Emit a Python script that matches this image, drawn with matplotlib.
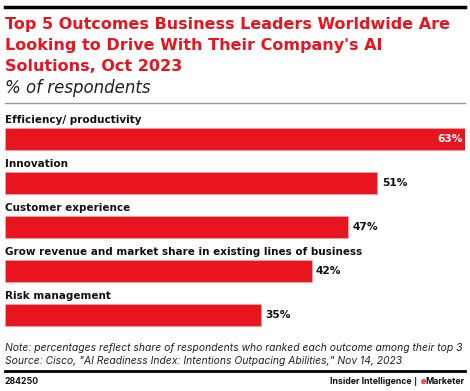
import matplotlib
matplotlib.use("Agg")
import matplotlib.pyplot as plt
from matplotlib.lines import Line2D

plt.rcParams['font.family'] = ['Inter', 'DejaVu Sans']

categories = ["Efficiency/ productivity", "Innovation", "Customer experience",
              "Grow revenue and market share in existing lines of business",
              "Risk management"]
values = [63, 51, 47, 42, 35]

title_lines = ["Top 5 Outcomes Business Leaders Worldwide Are",
               "Looking to Drive With Their Company's AI",
               "Solutions, Oct 2023"]

RED = '#E8141E'
W, H = 470, 391

fig = plt.figure(figsize=(W / 100, H / 100), dpi=100)

def fy(px):
    return 1 - px / H

def fx(px):
    return px / W

# header rules and text
fig.add_artist(Line2D([fx(5), fx(465)], [fy(7), fy(7)], color='black', lw=2.5))
for i, line in enumerate(title_lines):
    fig.text(fx(5), fy(29 + 21 * i), line, color=RED, fontsize=11.5,
             fontweight='bold', va='baseline', ha='left',
             family=['DejaVu Sans'])
fig.text(fx(5), fy(93), "% of respondents", fontsize=12, style='italic',
         va='baseline', ha='left', color='#222222', family=['DejaVu Sans'])
fig.add_artist(Line2D([fx(5), fx(465)], [fy(102.5), fy(102.5)], color='#999999', lw=1))

# bars
ax = fig.add_axes([fx(5), fy(337), fx(460), 220 / H])
ys = list(range(len(values)))
ax.barh(ys, values, height=0.48, color=RED, edgecolor='#F4A5A9', linewidth=0.5)
ax.set_xlim(0, max(values))
ax.set_ylim(len(values) - 0.5, -0.5)
ax.axis('off')
for y, cat, v in zip(ys, categories, values):
    ax.text(0, y - 0.36, cat, fontsize=7.45, fontweight='bold', va='baseline',
            ha='left', color='#111111', family=['DejaVu Sans'])
    if v == max(values):
        ax.text(v - 0.3, y, f"{v}%", fontsize=7.7, fontweight='bold',
                va='center', ha='right', color='white', family=['DejaVu Sans'])
    else:
        ax.text(v + 0.6, y, f"{v}%", fontsize=7.7, fontweight='bold',
                va='center', ha='left', color='#111111', family=['DejaVu Sans'])

# footer
fig.text(fx(5), fy(348), "Note: percentages reflect share of respondents who ranked each outcome among their top 3",
         fontsize=7.45, style='italic', va='center', ha='left', color='#222222')
fig.text(fx(5), fy(361), "Source: Cisco, \"AI Readiness Index: Intentions Outpacing Abilities,\" Nov 14, 2023",
         fontsize=7.45, style='italic', va='center', ha='left', color='#222222')
fig.add_artist(Line2D([fx(5), fx(465)], [fy(371), fy(371)], color='black', lw=2))
fig.text(fx(5), fy(381.5), "284250", fontsize=6.3, fontweight='bold', va='center',
         ha='left', color='#111111')

# footer brand, right-aligned in pieces
r = fig.canvas.get_renderer()
pieces = [("Marketer", '#111111', 'Inter'), ("e", RED, 'Inter'),
          (" | ", '#111111', 'DejaVu Sans'), ("Insider Intelligence", '#111111', 'Inter')]
x = fx(465)
for txt, col, fam in pieces:
    t = fig.text(x, fy(381.5), txt, fontsize=6.3, fontweight='bold', va='center',
                 ha='right', color=col, family=[fam])
    x = t.get_window_extent(r).x0 / W

fig.savefig("out.png", dpi=100)
